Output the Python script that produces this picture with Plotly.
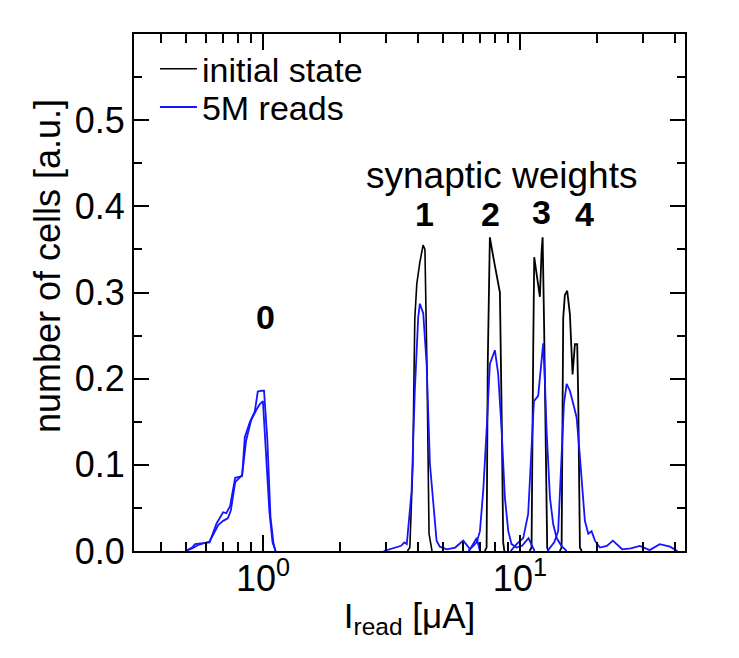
import math
import plotly.graph_objects as go

# ---- data (I_read in uA, number of cells in a.u.) ----
init0_x = [0.50, 0.53, 0.56, 0.62, 0.67, 0.70, 0.73, 0.75, 0.78, 0.83, 0.86, 0.90, 0.94, 0.97, 1.00, 1.03, 1.06, 1.09, 1.12]
init0_y = [0.0, 0.003, 0.007, 0.011, 0.030, 0.035, 0.038, 0.047, 0.080, 0.088, 0.128, 0.152, 0.163, 0.170, 0.174, 0.11, 0.045, 0.010, 0.0]

reads0_x = [0.50, 0.53, 0.545, 0.62, 0.66, 0.70, 0.72, 0.745, 0.78, 0.83, 0.85, 0.89, 0.93, 0.955, 0.99, 1.01, 1.04, 1.07, 1.10, 1.12]
reads0_y = [0.0, 0.004, 0.008, 0.010, 0.032, 0.045, 0.044, 0.052, 0.085, 0.087, 0.132, 0.150, 0.162, 0.185, 0.186, 0.186, 0.13, 0.04, 0.008, 0.0]

init1_x = [3.65, 3.73, 3.83, 3.90, 3.97, 4.08, 4.20, 4.27, 4.35, 4.43, 4.55]
init1_y = [0.0, 0.004, 0.10, 0.27, 0.31, 0.335, 0.355, 0.35, 0.21, 0.02, 0.0]

reads1_x = [2.95, 3.2, 3.45, 3.55, 3.63, 3.79, 3.90, 4.02, 4.08, 4.205, 4.335, 4.466, 4.60, 4.74, 4.88, 5.2, 5.6, 6.02, 6.4, 6.79, 6.99]
reads1_y = [0.0, 0.003, 0.006, 0.010, 0.008, 0.07, 0.186, 0.271, 0.287, 0.276, 0.217, 0.101, 0.055, 0.012, 0.005, 0.002, 0.004, 0.012, 0.002, 0.015, 0.0]

init2_x = [7.30, 7.42, 7.50, 7.58, 7.64, 7.87, 8.12, 8.36, 8.50, 8.61, 8.70]
init2_y = [0.0, 0.004, 0.22, 0.30, 0.364, 0.342, 0.320, 0.300, 0.15, 0.01, 0.0]

reads2_x = [6.3, 6.79, 6.99, 7.20, 7.42, 7.64, 7.99, 8.23, 8.49, 8.74, 9.01, 9.28, 9.7, 10.2, 10.8, 11.4]
reads2_y = [0.0, 0.010, 0.023, 0.07, 0.14, 0.217, 0.233, 0.206, 0.14, 0.062, 0.023, 0.008, 0.004, 0.006, 0.015, 0.0]

init3_x = [10.9, 11.10, 11.27, 11.37, 11.61, 11.78, 11.96, 12.15, 12.26, 12.43, 12.62, 12.77, 12.9]
init3_y = [0.0, 0.004, 0.236, 0.341, 0.322, 0.306, 0.295, 0.349, 0.364, 0.256, 0.10, 0.004, 0.0]

reads3_x = [9.2, 9.71, 10.3, 10.77, 11.10, 11.34, 11.78, 12.15, 12.32, 12.51, 12.70, 13.09, 13.48, 13.9, 14.5, 15.2]
reads3_y = [0.0, 0.008, 0.015, 0.043, 0.12, 0.174, 0.180, 0.217, 0.241, 0.198, 0.14, 0.062, 0.031, 0.015, 0.006, 0.0]

init4_x = [14.3, 14.53, 14.74, 14.96, 15.28, 15.65, 16.03, 16.37, 16.71, 16.86, 17.12, 17.4]
init4_y = [0.0, 0.004, 0.27, 0.297, 0.302, 0.275, 0.205, 0.24, 0.24, 0.18, 0.004, 0.0]

reads4_x = [12.8, 13.6, 14.09, 14.53, 14.84, 15.20, 15.65, 16.13, 16.62, 17.01, 17.38, 17.90, 18.45, 19.01, 19.58, 20.48, 21.8, 23.0, 25.0, 27.0, 29.3, 32.0, 35.0, 38.4, 41.0]
reads4_y = [0.0, 0.010, 0.023, 0.101, 0.171, 0.194, 0.186, 0.171, 0.155, 0.12, 0.081, 0.035, 0.020, 0.023, 0.012, 0.004, 0.006, 0.012, 0.002, 0.003, 0.006, 0.001, 0.008, 0.005, 0.0]

level_labels = ["0", "1", "2", "3", "4"]
x_tick_vals = [1, 10]
x_tick_text = ["10<sup>0</sup>", "10<sup>1</sup>"]
y_tick_vals = [0, 0.1, 0.2, 0.3, 0.4, 0.5]
y_tick_text = ["0.0", "0.1", "0.2", "0.3", "0.4", "0.5"]

BLUE = "#1414ff"
BLACK = "#000000"
FONT = "Liberation Sans, Arial, Helvetica, sans-serif"

fig = go.Figure()

init_sets = [(init0_x, init0_y, BLUE), (init1_x, init1_y, BLACK), (init2_x, init2_y, BLACK),
             (init3_x, init3_y, BLACK), (init4_x, init4_y, BLACK)]
reads_sets = [(reads0_x, reads0_y), (reads1_x, reads1_y), (reads2_x, reads2_y),
              (reads3_x, reads3_y), (reads4_x, reads4_y)]

fig.add_trace(go.Scatter(x=init1_x, y=init1_y, mode="lines", name="initial state",
                         line=dict(color=BLACK, width=1.6), legend="legend"))
for i, (xs, ys, c) in enumerate(init_sets):
    if i == 1:
        continue
    fig.add_trace(go.Scatter(x=xs, y=ys, mode="lines", showlegend=False,
                             line=dict(color=c, width=1.8)))
for i, (xs, ys) in enumerate(reads_sets):
    fig.add_trace(go.Scatter(x=xs, y=ys, mode="lines", name="5M reads", showlegend=(i == 0),
                             line=dict(color=BLUE, width=1.8), legend="legend2"))

label_pos = [(1.02, 0.272), (4.27, 0.391), (7.71, 0.391), (12.18, 0.393), (17.9, 0.391)]
for lab, (lx, ly) in zip(level_labels, label_pos):
    fig.add_annotation(x=math.log10(lx), y=ly, text="<b>" + lab + "</b>", showarrow=False,
                       font=dict(size=34, color="black", family=FONT))
fig.add_annotation(x=math.log10(8.51), y=0.436, text="synaptic weights", showarrow=False,
                   font=dict(size=37, color="black", family=FONT))

# y-axis title
fig.add_annotation(xref="paper", yref="paper", x=-0.158, y=0.551, xanchor="center", yanchor="middle",
                   text="number of cells [a.u.]", textangle=-90, showarrow=False,
                   font=dict(size=36, color="black", family=FONT))

minor_x = [0.4, 0.5, 0.6, 0.7, 0.8, 0.9, 2, 3, 4, 5, 6, 7, 8, 9, 20, 30, 40]

leg_common = dict(xanchor="left", yanchor="middle", bgcolor="rgba(0,0,0,0)",
                  font=dict(size=34, family=FONT), itemwidth=37, borderwidth=0)

fig.update_layout(
    width=731, height=650,
    margin=dict(l=126, r=54, t=26, b=107),
    paper_bgcolor="white", plot_bgcolor="white",
    font=dict(family=FONT, size=35, color="black"),
    showlegend=True,
    legend=dict(x=0.038, y=0.932, **leg_common),
    legend2=dict(x=0.038, y=0.858, **leg_common),
    xaxis=dict(type="log", range=[math.log10(0.315), math.log10(43.9)],
               tickvals=x_tick_vals, ticktext=x_tick_text,
               ticks="inside", ticklen=16, tickwidth=2, tickcolor="black",
               showline=True, linewidth=2, linecolor="black", mirror="ticks",
               showgrid=False, zeroline=False, ticklabelstandoff=-5,
               minor=dict(tickvals=minor_x, ticks="inside", ticklen=9, tickwidth=2,
                          tickcolor="black", showgrid=False),
               title=dict(text="I<sub>read</sub> [μA]", standoff=5, font=dict(size=35)),
               tickfont=dict(size=36)),
    yaxis=dict(range=[0, 0.6], tickvals=y_tick_vals, ticktext=y_tick_text,
               ticks="inside", ticklen=15, tickwidth=2, tickcolor="black",
               showline=True, linewidth=2, linecolor="black", mirror="ticks",
               showgrid=False, zeroline=False,
               minor=dict(dtick=0.05, ticks="inside", ticklen=8, tickwidth=2,
                          tickcolor="black", showgrid=False),
               tickfont=dict(size=36)),
)

fig.write_html("out.html")
